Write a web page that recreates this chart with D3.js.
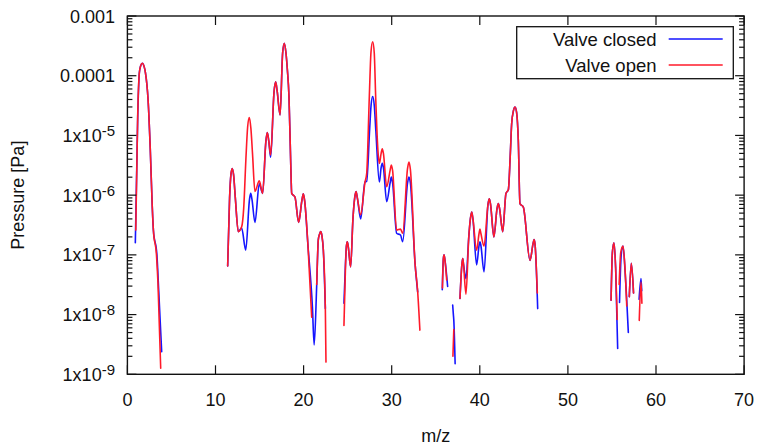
<!DOCTYPE html>
<html><head><meta charset="utf-8">
<script src="https://cdn.jsdelivr.net/npm/d3@7"></script>
<style>body{margin:0;background:#fff}svg{display:block}text{font-family:"Liberation Sans",Arial,sans-serif;fill:#111}</style>
</head><body>
<script>
// ---- data ----
const xTicks = [0,10,20,30,40,50,60,70];
const yTicks = [1e-9,1e-8,1e-7,1e-6,1e-5,1e-4,1e-3];
const yTickLabels = [["1x10","-9"],["1x10","-8"],["1x10","-7"],["1x10","-6"],["1x10","-5"],["0.0001",""],["0.001",""]];
const seriesNames = ["Valve closed","Valve open"];

const closedSegments = [
 [[0.9,1.6e-7],[1.17,2.0e-5],[1.35,1.1e-4],[1.5,1.45e-4],[1.7,1.62e-4],[1.9,1.42e-4],[2.05,1.12e-4],[2.35,3.9e-5],[2.6,5.7e-6],[2.82,6.5e-7],[2.95,2.6e-7],[3.35,1.0e-7],[3.55,2.6e-8],[3.89,2.4e-9]],
 [[11.38,6.5e-8],[11.6,9e-7],[11.75,2.2e-6],[11.9,2.8e-6],[12.05,2.2e-6],[12.25,9e-7],[12.59,2.45e-7],[12.97,2.8e-7],[13.43,1.2e-7],[13.86,8.5e-7],[14.0,1.07e-6],[14.14,8.5e-7],[14.48,3.5e-7],[14.97,1.55e-6],[15.35,1.07e-6],[15.72,8e-6],[15.88,1.12e-5],[16.05,8e-6],[16.26,4.3e-6],[16.65,5.5e-5],[16.83,7.9e-5],[17.0,5.5e-5],[17.33,2.2e-5],[17.62,2.4e-4],[17.81,3.5e-4],[18.0,2.4e-4],[18.15,1.3e-4],[18.34,4.5e-5],[18.54,3.4e-6],[18.65,1.07e-6],[19.02,9.3e-7],[19.44,3.5e-7],[19.8,8e-7],[19.97,1.05e-6],[20.12,8e-7],[20.5,1.4e-7],[21.0,1.35e-8],[21.2,3.1e-9],[21.49,3.2e-8],[21.67,1.8e-7],[21.8,2.2e-7],[21.94,2.45e-7],[22.08,2.1e-7],[22.24,1.2e-7],[22.47,1.26e-8]],
 [[24.58,1.55e-8],[24.75,7e-8],[24.86,1.4e-7],[24.96,1.66e-7],[25.06,1.4e-7],[25.34,6.3e-8],[25.6,4e-7],[25.8,9e-7],[25.95,1.15e-6],[26.1,9e-7],[26.48,4e-7],[26.97,1.66e-6],[27.16,1.7e-6],[27.5,1.3e-5],[27.66,3.2e-5],[27.84,4.5e-5],[28.02,3.2e-5],[28.2,1.2e-5],[28.6,1.66e-6],[28.8,2.9e-6],[28.93,3.4e-6],[29.06,2.9e-6],[29.43,7.8e-7],[29.82,1.6e-6],[29.96,2e-6],[30.1,1.6e-6],[30.56,2.3e-7],[31.0,2.15e-7],[31.25,1.66e-7],[31.8,1.6e-6],[31.96,2e-6],[32.12,1.6e-6],[32.65,7.2e-8],[32.95,2.4e-8]],
 [[35.74,2.6e-8],[35.86,8.5e-8],[35.94,1.0e-7],[36.03,8.5e-8],[36.35,2.95e-8]],
 [[36.92,1.45e-8],[37.0,1.0e-8],[37.05,8e-9],[37.2,1.5e-9]],
 [[37.75,1.86e-8],[37.97,7e-8],[38.06,8.7e-8],[38.15,7e-8],[38.43,4e-8],[38.75,2e-7],[38.93,4e-7],[39.08,5.2e-7],[39.22,4e-7],[39.64,6.8e-8],[39.92,1.45e-7],[40.02,1.66e-7],[40.12,1.45e-7],[40.48,5.2e-8],[40.93,7e-7],[41.08,8.7e-7],[41.22,7e-7],[41.6,2e-7],[41.96,6e-7],[42.1,7.2e-7],[42.24,6e-7],[42.6,2.45e-7],[42.97,1.07e-6],[43.24,1.23e-6],[43.45,4.4e-6],[43.62,1.6e-5],[43.82,2.6e-5],[44.0,3e-5],[44.18,2.4e-5],[44.37,8.3e-6],[44.56,7.2e-7],[44.94,6.3e-7],[45.7,8.1e-8],[46.03,1.5e-7],[46.15,1.8e-7],[46.27,1.5e-7],[46.57,1.26e-8]],
 [[54.9,1.74e-8],[55.05,1.1e-7],[55.23,1.6e-7],[55.42,6e-8],[55.65,2.7e-9]],
 [[55.86,1.6e-8],[56.05,1.0e-7],[56.26,1.4e-7],[56.5,5e-8],[56.86,5e-9]],
 [[56.97,2e-8],[57.2,7.2e-8],[57.45,2.3e-8]],
 [[58.08,1.8e-8],[58.3,4e-8],[58.38,2.5e-8]]
];

const openSegments = [
 [[0.95,2.6e-7],[1.17,2.2e-5],[1.35,1.1e-4],[1.5,1.45e-4],[1.7,1.62e-4],[1.9,1.42e-4],[2.05,1.12e-4],[2.35,3.9e-5],[2.6,5.7e-6],[2.82,6.5e-7],[2.95,2.6e-7],[3.3,1.0e-7],[3.47,3.4e-8],[3.78,1.26e-9]],
 [[11.38,6.5e-8],[11.6,9e-7],[11.75,2.2e-6],[11.9,2.8e-6],[12.05,2.2e-6],[12.25,9e-7],[12.59,2.45e-7],[12.97,2.95e-7],[13.2,6e-7],[13.45,4e-6],[13.65,1.4e-5],[13.84,2.0e-5],[14.02,1.3e-5],[14.2,5e-6],[14.48,1.15e-6],[14.97,1.74e-6],[15.35,1.07e-6],[15.72,8e-6],[15.88,1.12e-5],[16.05,8e-6],[16.26,4.7e-6],[16.65,5.5e-5],[16.83,7.9e-5],[17.0,5.5e-5],[17.33,2.2e-5],[17.62,2.4e-4],[17.81,3.5e-4],[18.0,2.4e-4],[18.15,1.3e-4],[18.34,4.5e-5],[18.54,3.4e-6],[18.65,1.07e-6],[19.02,9.3e-7],[19.44,3.5e-7],[19.8,8e-7],[19.97,1.05e-6],[20.12,8e-7],[20.5,1.4e-7],[20.92,9e-9]],
 [[21.49,3.2e-8],[21.67,1.8e-7],[21.8,2.2e-7],[21.94,2.45e-7],[22.08,2.1e-7],[22.24,1.2e-7],[22.47,1.2e-8],[22.54,1.6e-9]],
 [[24.58,6.6e-9],[24.75,6e-8],[24.86,1.4e-7],[24.96,1.66e-7],[25.06,1.4e-7],[25.34,6.3e-8],[25.6,4e-7],[25.8,9e-7],[25.95,1.15e-6],[26.1,9e-7],[26.48,4.7e-7],[26.97,1.66e-6],[27.16,2.3e-6],[27.46,4.5e-5],[27.65,2.5e-4],[27.84,3.7e-4],[28.02,2.4e-4],[28.18,4.5e-5],[28.41,6.5e-6],[28.6,3.4e-6],[28.8,5e-6],[28.93,6e-6],[29.06,5e-6],[29.43,1.38e-6],[29.82,2.6e-6],[29.96,3.2e-6],[30.1,2.6e-6],[30.56,2.6e-7],[31.0,2.7e-7],[31.25,2.3e-7],[31.8,2.8e-6],[31.96,3.6e-6],[32.12,2.7e-6],[32.65,7.2e-8],[32.95,2.4e-8],[33.2,5.5e-9]],
 [[35.76,2.8e-8],[35.86,8.5e-8],[35.94,1.0e-7],[36.03,8.5e-8],[36.24,3.8e-8]],
 [[36.95,2e-9],[37.05,5.6e-9]],
 [[37.75,1.86e-8],[37.97,7e-8],[38.06,8.7e-8],[38.15,7e-8],[38.43,2.2e-8],[38.75,2e-7],[38.93,4e-7],[39.08,5.2e-7],[39.22,4e-7],[39.64,1.2e-7],[39.92,2.3e-7],[40.02,2.7e-7],[40.12,2.3e-7],[40.48,1.4e-7],[40.93,7e-7],[41.08,8.7e-7],[41.22,7e-7],[41.6,2e-7],[41.96,6e-7],[42.1,7.2e-7],[42.24,6e-7],[42.6,2.45e-7],[42.97,1.07e-6],[43.24,1.23e-6],[43.45,4.4e-6],[43.62,1.6e-5],[43.82,2.6e-5],[44.0,3e-5],[44.18,2.4e-5],[44.37,8.3e-6],[44.56,7.2e-7],[44.94,6.3e-7],[45.7,8.1e-8],[46.03,1.5e-7],[46.15,1.8e-7],[46.27,1.5e-7],[46.53,2.3e-8]],
 [[54.9,1.74e-8],[55.05,1.1e-7],[55.23,1.6e-7],[55.42,6e-8],[55.6,8.3e-9]],
 [[55.82,3.2e-8],[56.0,1.1e-7],[56.26,1.4e-7],[56.48,6e-8],[56.68,1.4e-8]],
 [[56.97,2e-8],[57.2,7.2e-8],[57.45,2.3e-8]],
 [[58.1,8e-9],[58.3,3.5e-8],[58.4,1.55e-8]]
];

// ---- layout ----
const W = 758, H = 448;
const L = 127.4, R = 744.1, T = 16, B = 374.3;
const colors = ["#1515ff", "#ff1a2a"];

const svg = d3.select("body").append("svg").attr("width", W).attr("height", H);
const x = d3.scaleLinear().domain([0,70]).range([L,R]);
const y = d3.scaleLog().domain([1e-9,1e-3]).range([B,T]);

svg.append("defs").append("clipPath").attr("id","clip")
  .append("rect").attr("x",L).attr("y",T).attr("width",R-L).attr("height",B-T);

const line = d3.line().x(d=>x(d[0])).y(d=>y(d[1])).curve(d3.curveMonotoneX);

const gData = svg.append("g").attr("clip-path","url(#clip)");
[closedSegments, openSegments].forEach((segs,i)=>{
  gData.selectAll(null).data(segs).enter().append("path")
    .attr("d", line).attr("fill","none").attr("stroke",colors[i])
    .attr("stroke-width",1.6).attr("stroke-linejoin","round").attr("stroke-linecap","round");
});

// ---- axes ----
const ax = svg.append("g").attr("stroke","#111").attr("stroke-width",1.2);
xTicks.forEach(t=>{
  ax.append("line").attr("x1",x(t)).attr("x2",x(t)).attr("y1",B).attr("y2",B-9);
  ax.append("line").attr("x1",x(t)).attr("x2",x(t)).attr("y1",T).attr("y2",T+9);
});
const minor = [];
for (let e=-9;e<-3;e++) for (let k=2;k<10;k++) minor.push(k*Math.pow(10,e));
yTicks.forEach(t=>{
  ax.append("line").attr("x1",L).attr("x2",L+9).attr("y1",y(t)).attr("y2",y(t));
  ax.append("line").attr("x1",R).attr("x2",R-9).attr("y1",y(t)).attr("y2",y(t));
});
minor.forEach(t=>{
  ax.append("line").attr("x1",L).attr("x2",L+5).attr("y1",y(t)).attr("y2",y(t));
  ax.append("line").attr("x1",R).attr("x2",R-5).attr("y1",y(t)).attr("y2",y(t));
});
svg.append("rect").attr("x",L).attr("y",T).attr("width",R-L).attr("height",B-T)
  .attr("fill","none").attr("stroke","#111").attr("stroke-width",1.4);

// tick labels
svg.selectAll(".xl").data(xTicks).enter().append("text")
  .attr("x",d=>x(d)).attr("y",406).attr("text-anchor","middle").attr("font-size",18).text(d=>d);
yTicks.forEach((t,i)=>{
  const lab = yTickLabels[i];
  const tx = svg.append("text").attr("x",115).attr("y",y(t)+6.5).attr("text-anchor","end").attr("font-size",18);
  tx.append("tspan").text(lab[0]);
  if (lab[1]) tx.append("tspan").attr("font-size",15).attr("dy",-6).text(lab[1]);
});

// axis titles
svg.append("text").attr("x",(L+R)/2).attr("y",442).attr("text-anchor","middle").attr("font-size",18).text("m/z");
svg.append("text").attr("transform",`translate(24,${(T+B)/2}) rotate(-90)`).attr("text-anchor","middle").attr("font-size",18).text("Pressure [Pa]");

// legend
svg.append("rect").attr("x",516.7).attr("y",26.7).attr("width",216.6).attr("height",52)
  .attr("fill","#fff").attr("stroke","#111").attr("stroke-width",1.3);
seriesNames.forEach((n,i)=>{
  const ly = [39,65][i];
  svg.append("text").attr("x",656.5).attr("y",ly+6.5).attr("text-anchor","end").attr("font-size",18.5).text(n);
  svg.append("line").attr("x1",668.7).attr("x2",722.7).attr("y1",ly).attr("y2",ly)
    .attr("stroke",colors[i]).attr("stroke-width",1.6);
});
</script>
</body></html>
